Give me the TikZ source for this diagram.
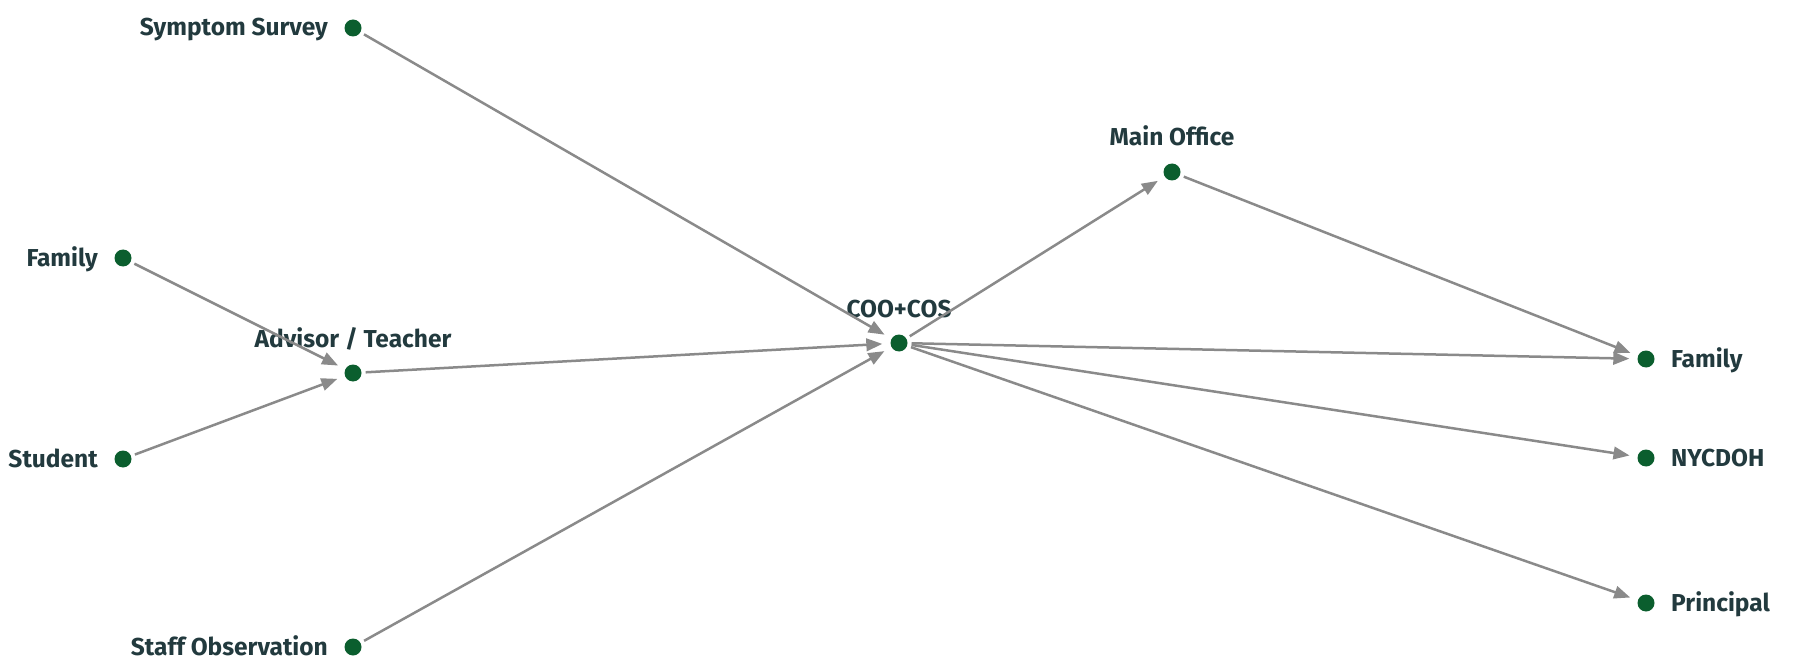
\documentclass[tikz,border=0pt]{standalone}
\usepackage{fontspec}
\setmainfont{Fira Sans}
\usetikzlibrary{arrows.meta}
\definecolor{dotgreen}{HTML}{0B5E2E}
\definecolor{labelink}{HTML}{223A3E}
\definecolor{edgegray}{HTML}{8A8A8A}
\tikzset{
  pt/.style={circle, fill=dotgreen, draw=none, inner sep=0pt, minimum size=17pt},
  lab/.style={text=labelink, font=\fontsize{24.5}{27}\selectfont\bfseries, inner sep=0pt},
  flow/.style={draw=edgegray, line width=2.5pt,
    -{Triangle[length=16pt,width=12.5pt]}, shorten >=8pt, shorten <=4pt},
}
\begin{document}
\begin{tikzpicture}[x=1pt, y=-1pt]
  \useasboundingbox (0,0) rectangle (1794,663);
  % nodes
  \node[pt] (survey)  at (353,28)   {};
  \node[pt] (famin)   at (123,258)  {};
  \node[pt] (student) at (123,459)  {};
  \node[pt] (advisor) at (353,373)  {};
  \node[pt] (staff)   at (353,647)  {};
  \node[pt] (coo)     at (899,343)  {};
  \node[pt] (office)  at (1172,172) {};
  \node[pt] (famout)  at (1646,359) {};
  \node[pt] (doh)     at (1646,458) {};
  \node[pt] (princ)   at (1646,603) {};
  % labels
  \node[lab, anchor=base east] (lsurvey)  at ([xshift=-25pt,yshift=-8pt]survey.center)  {Symptom Survey};
  \node[lab, anchor=base east] (lfamin)   at ([xshift=-25pt,yshift=-8pt]famin.center)   {Family};
  \node[lab, anchor=base east] (lstudent) at ([xshift=-25pt,yshift=-8pt]student.center) {Student};
  \node[lab, anchor=base east] (lstaff)   at ([xshift=-25pt,yshift=-8pt]staff.center)   {Staff Observation};
  \node[lab, anchor=base] (ladvisor) at ([yshift=26pt]advisor.center)  {Advisor / Teacher};
  \node[lab, anchor=base] (lcoo)     at ([yshift=26pt]coo.center)      {COO+COS};
  \node[lab, anchor=base] (loffice)  at ([yshift=26pt]office.center)   {Main Office};
  \node[lab, anchor=base west] (lfamout)  at ([xshift=25pt,yshift=-8pt]famout.center)   {Family};
  \node[lab, anchor=base west] (ldoh)     at ([xshift=25pt,yshift=-8pt]doh.center)      {NYCDOH};
  \node[lab, anchor=base west] (lprinc)   at ([xshift=25pt,yshift=-8pt]princ.center)    {Principal};
  % connectors
  \draw[flow] (survey)  -- (coo);
  \draw[flow] (famin)   -- (advisor);
  \draw[flow] (student) -- (advisor);
  \draw[flow] (advisor) -- (coo);
  \draw[flow] (staff)   -- (coo);
  \draw[flow] (coo)     -- (office);
  \draw[flow] (office)  -- (famout);
  \draw[flow] (coo)     -- (famout);
  \draw[flow] (coo)     -- (doh);
  \draw[flow] (coo)     -- (princ);
\end{tikzpicture}
\end{document}
